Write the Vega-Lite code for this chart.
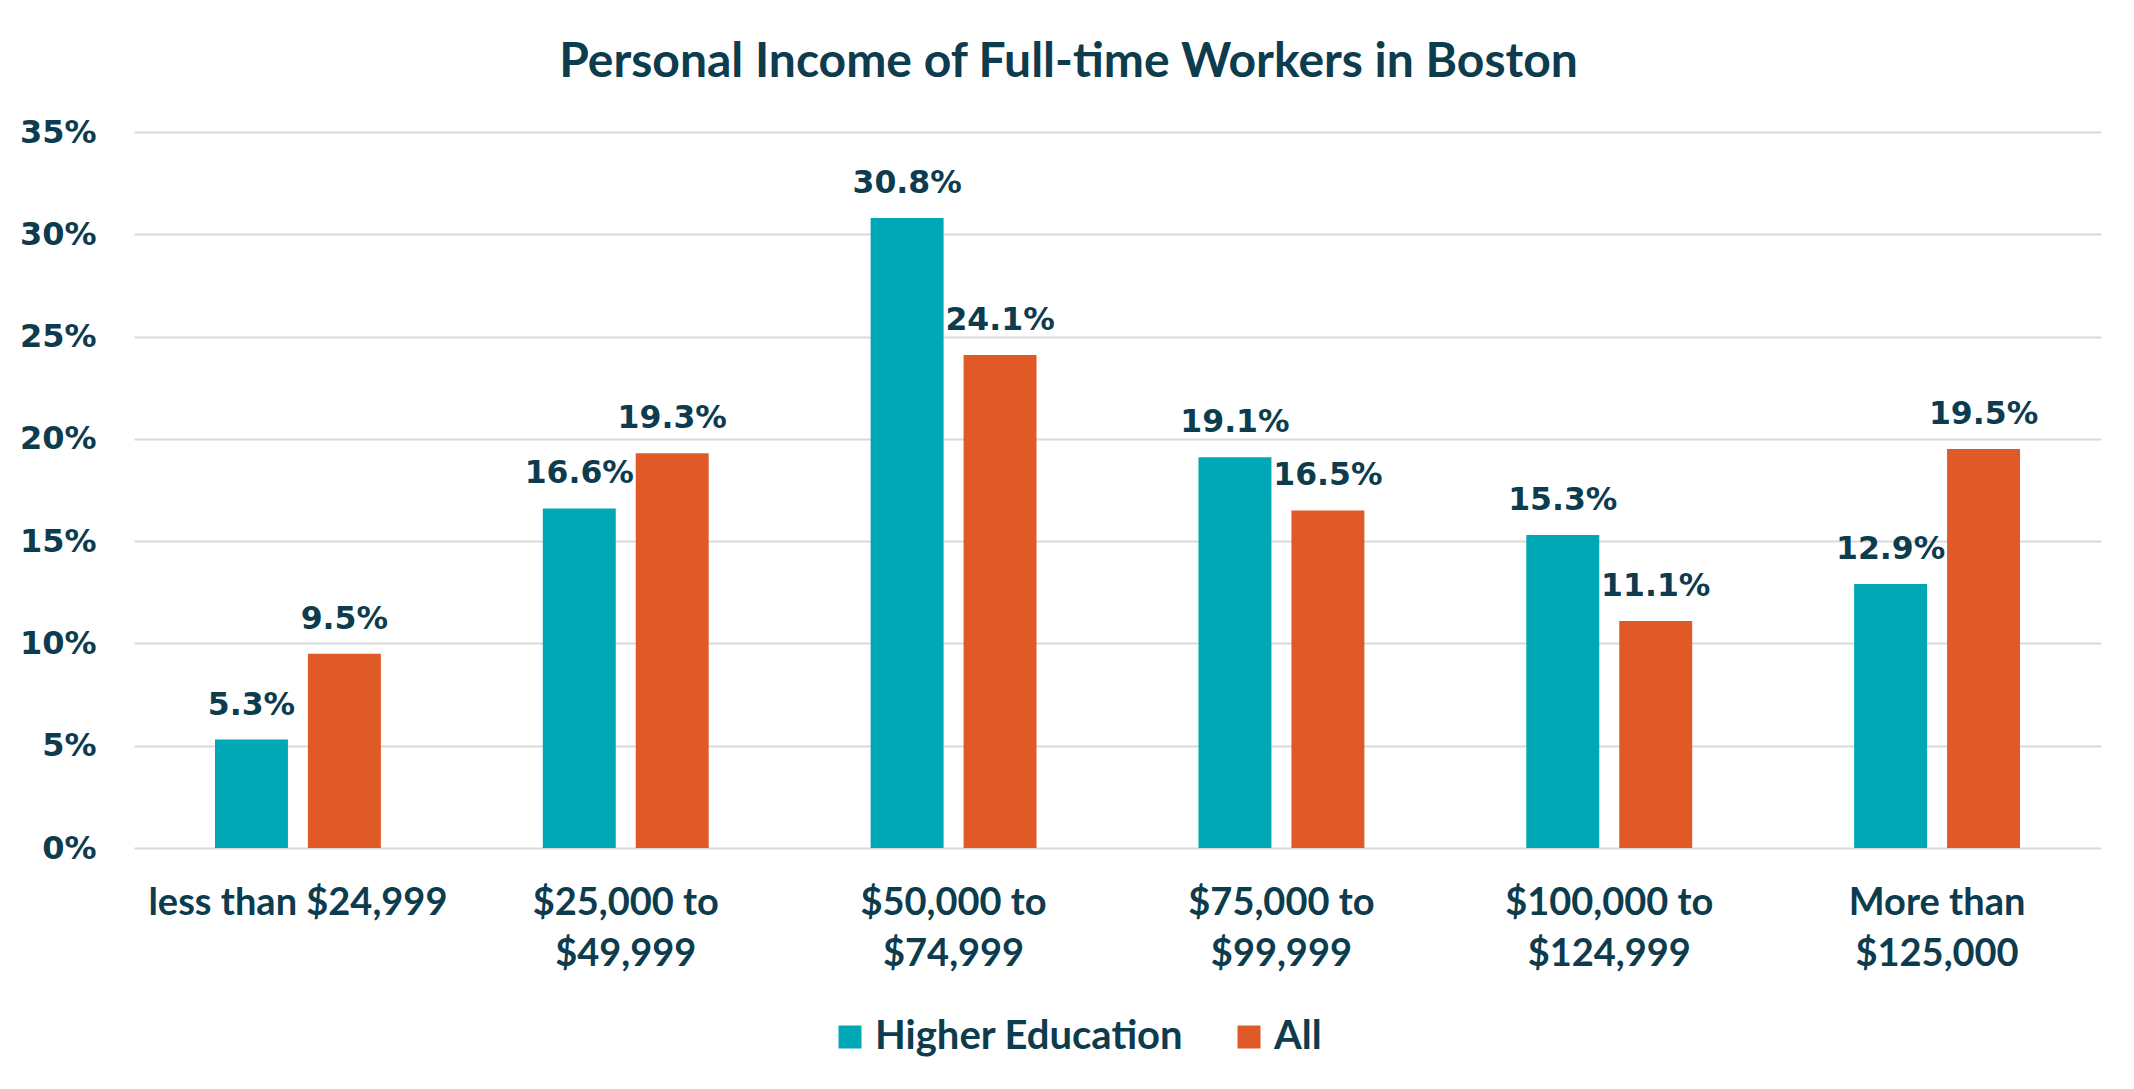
{
  "$schema": "https://vega.github.io/schema/vega-lite/v6.json",
  "width": 1967,
  "height": 716,
  "autosize": {"type": "none"},
  "padding": {"left": 134, "top": 132, "right": 33, "bottom": 241},
  "background": "white",
  "title": {
    "text": "Personal Income of Full-time Workers in Boston",
    "font": "Lato",
    "fontSize": 48,
    "fontWeight": "bold",
    "color": "#0D3C4E",
    "anchor": "middle",
    "offset": 29,
    "dx": -49
  },
  "config": {
    "view": {"stroke": null}
  },
  "data": {
    "values": [
      {"income": "less than $24,999", "group": "Higher Education", "share": 0.053},
      {"income": "less than $24,999", "group": "All", "share": 0.095},
      {"income": "$25,000 to $49,999", "group": "Higher Education", "share": 0.166},
      {"income": "$25,000 to $49,999", "group": "All", "share": 0.193},
      {"income": "$50,000 to $74,999", "group": "Higher Education", "share": 0.308},
      {"income": "$50,000 to $74,999", "group": "All", "share": 0.241},
      {"income": "$75,000 to $99,999", "group": "Higher Education", "share": 0.191},
      {"income": "$75,000 to $99,999", "group": "All", "share": 0.165},
      {"income": "$100,000 to $124,999", "group": "Higher Education", "share": 0.153},
      {"income": "$100,000 to $124,999", "group": "All", "share": 0.111},
      {"income": "More than $125,000", "group": "Higher Education", "share": 0.129},
      {"income": "More than $125,000", "group": "All", "share": 0.195}
    ]
  },
  "encoding": {
    "x": {
      "field": "income",
      "type": "nominal",
      "sort": null,
      "scale": {"paddingInner": 0.494, "paddingOuter": 0.247},
      "axis": {
        "title": null,
        "domain": false,
        "ticks": false,
        "grid": false,
        "labelAngle": 0,
        "labelLimit": 0,
        "labelFont": "Lato",
        "labelFontSize": 38,
        "labelFontWeight": "bold",
        "labelColor": "#0D3C4E",
        "labelPadding": 36,
        "labelLineHeight": 51,
        "labelExpr": "indexof(datum.value, ' to ') > 0 ? [slice(datum.value, 0, indexof(datum.value, ' to ') + 3), slice(datum.value, indexof(datum.value, ' to ') + 4)] : (indexof(datum.value, 'More than ') == 0 ? ['More than', slice(datum.value, 10)] : datum.value)"
      }
    },
    "xOffset": {
      "field": "group",
      "type": "nominal",
      "sort": ["Higher Education", "All"],
      "scale": {"paddingInner": 0.215, "paddingOuter": 0}
    },
    "y": {
      "field": "share",
      "type": "quantitative",
      "scale": {"domain": [0, 0.35]},
      "axis": {
        "title": null,
        "values": [0, 0.05, 0.1, 0.15, 0.2, 0.25, 0.3, 0.35],
        "format": ".0%",
        "domain": false,
        "ticks": false,
        "grid": true,
        "gridColor": "#D9D9D9",
        "gridWidth": 2,
        "labelFont": "DejaVu Sans",
        "labelFontSize": 32,
        "labelFontWeight": "bold",
        "labelColor": "#0D3C4E",
        "labelPadding": 38
      }
    }
  },
  "layer": [
    {
      "mark": {"type": "bar"},
      "encoding": {
        "color": {
          "field": "group",
          "type": "nominal",
          "sort": ["Higher Education", "All"],
          "scale": {"domain": ["Higher Education", "All"], "range": ["#00A8B5", "#E05A28"]},
          "legend": {
            "title": null,
            "orient": "none",
            "direction": "horizontal",
            "legendX": 696,
            "legendY": 885,
            "symbolType": "square",
            "symbolSize": 529,
            "symbolStrokeWidth": 0,
            "labelFont": "Lato",
            "labelFontSize": 40,
            "labelFontWeight": "bold",
            "labelColor": "#0D3C4E",
            "labelOffset": 5,
            "columnPadding": 45,
            "labelLimit": 0
          }
        }
      }
    },
    {
      "mark": {
        "type": "text",
        "baseline": "alphabetic",
        "dy": -25,
        "font": "DejaVu Sans",
        "fontSize": 31.5,
        "fontWeight": "bold",
        "color": "#0D3C4E"
      },
      "encoding": {
        "text": {"field": "share", "type": "quantitative", "format": ".1%"}
      }
    }
  ]
}
